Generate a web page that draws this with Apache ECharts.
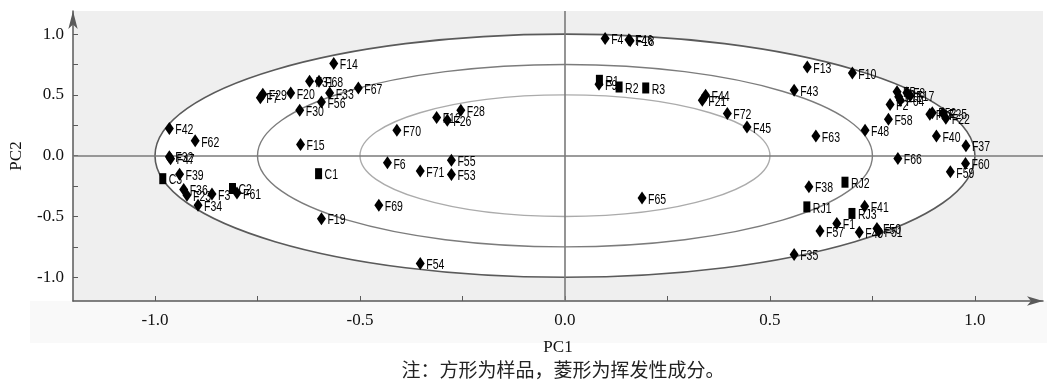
<!DOCTYPE html>
<html>
<head>
<meta charset="utf-8">
<script src="https://cdn.jsdelivr.net/npm/echarts@6/dist/echarts.min.js"></script>
<style>
  html, body { margin: 0; padding: 0; background: #ffffff; }
  #chart { width: 1047px; height: 383px; }
</style>
</head>
<body>
<div id="chart"></div>
<script>
// Samples (squares)
const sampleNames = ['C1', 'C2', 'C3', 'R1', 'R2', 'R3', 'RJ1', 'RJ2', 'RJ3'];
const samplePC1 = [-0.601, -0.811, -0.981, 0.084, 0.132, 0.197, 0.590, 0.683, 0.700];
const samplePC2 = [-0.148, -0.270, -0.189, 0.620, 0.565, 0.557, -0.421, -0.218, -0.475];

// Volatile components (diamonds)
const compNames = [
  'F1', 'F2', 'F3', 'F4', 'F5', 'F6', 'F7', 'F8', 'F9', 'F10',
  'F11', 'F12', 'F13', 'F14', 'F15', 'F17', 'F18', 'F46', 'F19', 'F20',
  'F21', 'F22', 'F23', 'F25', 'F26', 'F27', 'F28', 'F29', 'F30', 'F31',
  'F32', 'F47', 'F33', 'F34', 'F35', 'F36', 'F37', 'F38', 'F39', 'F40',
  'F41', 'F42', 'F43', 'F44', 'F45', 'F48', 'F49', 'F50', 'F51', 'F52',
  'F53', 'F54', 'F55', 'F56', 'F57', 'F58', 'F59', 'F60', 'F61', 'F62',
  'F63', 'F64', 'F65', 'F66', 'F67', 'F68', 'F69', 'F70', 'F71', 'F72'
];
const compPC1 = [
  0.663, 0.793, -0.861, 0.098, 0.810, -0.433, -0.743, 0.834, 0.083, 0.701,
  0.814, -0.313, 0.591, -0.564, -0.645, 0.842, 0.159, 0.156, -0.594, -0.669,
  0.335, 0.929, -0.922, 0.922, -0.287, 0.890, -0.254, -0.737, -0.647, -0.623,
  -0.965, -0.962, -0.574, -0.895, 0.559, -0.930, 0.978, 0.595, -0.940, 0.906,
  0.731, -0.965, 0.559, 0.343, 0.444, 0.732, 0.718, 0.761, 0.765, 0.896,
  -0.277, -0.353, -0.277, -0.594, 0.622, 0.789, 0.940, 0.977, -0.800, -0.902,
  0.612, 0.818, 0.188, 0.812, -0.504, -0.600, -0.454, -0.410, -0.353, 0.396
];
const compPC2 = [
  -0.557, 0.421, -0.316, 0.963, 0.526, -0.059, 0.477, 0.518, 0.588, 0.680,
  0.485, 0.314, 0.730, 0.758, 0.092, 0.493, 0.945, 0.953, -0.518, 0.516,
  0.456, 0.308, -0.325, 0.349, 0.292, 0.341, 0.374, 0.505, 0.374, 0.612,
  -0.008, -0.025, 0.516, -0.407, -0.812, -0.278, 0.081, -0.255, -0.152, 0.163,
  -0.415, 0.224, 0.538, 0.497, 0.237, 0.210, -0.629, -0.598, -0.620, 0.353,
  -0.154, -0.886, -0.037, 0.442, -0.620, 0.300, -0.133, -0.064, -0.306, 0.122,
  0.163, 0.456, -0.347, -0.023, 0.557, 0.612, -0.407, 0.210, -0.125, 0.347
];

// Correlation circles (radius in PC units), outermost first
const circleRadii = [1.0, 0.75, 0.5];

// Axis ticks and labels
const pcTicks = [-1.0, -0.75, -0.5, -0.25, 0.0, 0.25, 0.5, 0.75, 1.0];
const pcLabels = [-1.0, -0.5, 0.0, 0.5, 1.0];

const circleStroke = ['#5a5a5a', '#7c7c7c', '#ababab'];
const circleWidth = [1.6, 1.4, 1.4];

const labelFont = "15px 'Liberation Sans', Arial, sans-serif";
const axisFont = "'Liberation Serif', 'Times New Roman', serif";

// Marker + condensed label for one point
function pointItem(p, name, shape) {
  const marker = shape === 'rect'
    ? { type: 'rect', shape: { x: p[0] - 3.5, y: p[1] - 5.5, width: 7, height: 11 }, style: { fill: '#000' } }
    : { type: 'polygon', shape: { points: [[p[0], p[1] - 6.5], [p[0] + 4.5, p[1]], [p[0], p[1] + 6.5], [p[0] - 4.5, p[1]]] }, style: { fill: '#000' } };
  return {
    type: 'group',
    children: [
      marker,
      {
        type: 'text',
        x: p[0] + 6, y: p[1] + 1.5,
        scaleX: 0.7,
        style: { text: name, font: labelFont, fill: '#000', textAlign: 'left', textVerticalAlign: 'middle' }
      }
    ]
  };
}

const chart = echarts.init(document.getElementById('chart'), null, { renderer: 'canvas' });

const option = {
  animation: false,
  backgroundColor: '#ffffff',
  grid: {
    left: 73, right: 4, top: 11, bottom: 82,
    show: true, backgroundColor: '#efefef', borderWidth: 0
  },
  xAxis: {
    type: 'value',
    min: -1.2, max: 1.166,
    name: 'PC1', nameLocation: 'middle', nameGap: 38,
    nameTextStyle: { fontFamily: axisFont, fontSize: 17, color: '#111' },
    axisLine: { show: true, onZero: false, symbol: ['none', 'arrow'], symbolSize: [7, 16],
      lineStyle: { color: '#5a5a5a', width: 1.5 } },
    axisTick: { show: true, inside: true, length: 5, customValues: pcTicks,
      lineStyle: { color: '#5a5a5a', width: 1 } },
    axisLabel: { customValues: pcLabels, margin: 11, fontFamily: axisFont, fontSize: 17, color: '#111',
      formatter: v => v.toFixed(1) },
    splitLine: { show: false }
  },
  yAxis: {
    type: 'value',
    min: -1.195, max: 1.19,
    name: 'PC2', nameLocation: 'middle', nameGap: 48,
    nameTextStyle: { fontFamily: axisFont, fontSize: 17, color: '#111' },
    axisLine: { show: true, onZero: false, symbol: ['none', 'arrow'], symbolSize: [7, 18],
      lineStyle: { color: '#5a5a5a', width: 1.5 } },
    axisTick: { show: true, inside: true, length: 5, customValues: pcTicks,
      lineStyle: { color: '#5a5a5a', width: 1 } },
    axisLabel: { customValues: pcLabels, margin: 9, fontFamily: axisFont, fontSize: 17, color: '#111',
      formatter: v => v.toFixed(1) },
    splitLine: { show: false }
  },
  series: [
    {
      // correlation circles, scaled through the axes
      type: 'custom',
      z: 1,
      silent: true,
      clip: false,
      data: circleRadii.map(r => [0, 0, r]),
      encode: { x: 0, y: 1 },
      renderItem: function (params, api) {
        const r = api.value(2);
        const c = api.coord([0, 0]);
        const e = api.coord([r, r]);
        const i = params.dataIndex;
        return {
          type: 'ellipse',
          shape: { cx: c[0], cy: c[1], rx: e[0] - c[0], ry: c[1] - e[1] },
          style: {
            fill: i === 0 ? '#ffffff' : 'none',
            stroke: circleStroke[i],
            lineWidth: circleWidth[i]
          }
        };
      }
    },
    {
      // zero reference lines
      type: 'scatter',
      z: 3,
      silent: true,
      data: [],
      markLine: {
        silent: true,
        symbol: ['none', 'none'],
        label: { show: false },
        lineStyle: { color: '#7a7a7a', width: 1.6, type: 'solid' },
        data: [{ xAxis: 0 }, { yAxis: 0 }]
      }
    },
    {
      name: 'samples',
      type: 'custom',
      z: 10,
      clip: false,
      data: samplePC1.map((x, i) => [x, samplePC2[i]]),
      encode: { x: 0, y: 1 },
      renderItem: function (params, api) {
        const p = api.coord([api.value(0), api.value(1)]);
        return pointItem(p, sampleNames[params.dataIndex], 'rect');
      }
    },
    {
      name: 'components',
      type: 'custom',
      z: 10,
      clip: false,
      data: compPC1.map((x, i) => [x, compPC2[i]]),
      encode: { x: 0, y: 1 },
      renderItem: function (params, api) {
        const p = api.coord([api.value(0), api.value(1)]);
        return pointItem(p, compNames[params.dataIndex], 'diamond');
      }
    }
  ],
  graphic: [
    {
      type: 'rect',
      z: -1,
      silent: true,
      shape: { x: 30, y: 301, width: 1017, height: 42 },
      style: { fill: '#f9f9f9' }
    },
    {
      type: 'text',
      x: 563, y: 370,
      silent: true,
      style: {
        text: '注：方形为样品，菱形为挥发性成分。',
        textAlign: 'center', textVerticalAlign: 'middle',
        font: "19px 'Noto Sans CJK SC', sans-serif",
        fill: '#222'
      }
    }
  ]
};

chart.setOption(option);
</script>
</body>
</html>
